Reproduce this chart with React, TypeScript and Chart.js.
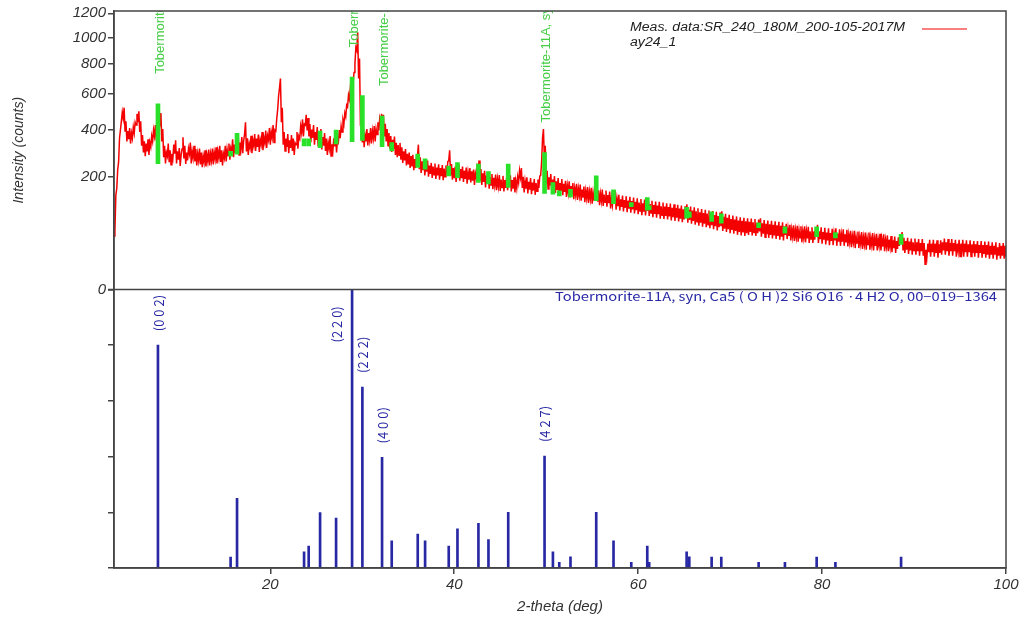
import React, { useEffect, useRef } from 'react';
import { Chart, LinearScale, registerables } from 'chart.js';

// ---------------- data ----------------
// The measured scan is very dense; it is kept here as its lower and upper noise
// envelope in 0.2 deg bins from 3.0 to 100.0 deg (counts).
const START_2THETA = 3.0;
const BIN_2THETA = 0.2;
const bandLow = [
  45, 140, 225, 360, 445,
  460, 395, 345, 355, 335,
  360, 385, 425, 440, 390,
  325, 295, 280, 300, 285,
  320, 345, 370, 350, 400,
  440, 345, 275, 250, 280,
  255, 245, 270, 290, 250,
  265, 240, 310, 270, 248,
  262, 290, 250, 272, 258,
  242, 262, 246, 235, 255,
  238, 258, 242, 262, 246,
  268, 250, 272, 256, 242,
  272, 258, 282, 265, 300,
  275, 295, 330, 285, 310,
  292, 380, 300, 285, 315,
  292, 325, 302, 320, 298,
  330, 305, 338, 315, 352,
  330, 362, 340, 395, 510,
  640, 440, 330, 302, 320,
  292, 315, 302, 285, 330,
  312, 358, 388, 368, 425,
  398, 368, 340, 362, 330,
  352, 322, 345, 308, 325,
  302, 285, 312, 280, 302,
  322, 295, 340, 360, 390,
  430, 470, 525, 570, 610,
  670, 800, 900, 700, 420,
  340, 318, 345, 326, 350,
  336, 360, 345, 378, 398,
  440, 415, 368, 345, 325,
  312, 298, 312, 285, 275,
  284, 265, 252, 262, 242,
  246, 232, 238, 224, 232,
  280, 228, 214, 224, 205,
  218, 200, 210, 196, 207,
  192, 205, 190, 202, 188,
  200, 212, 260, 205, 190,
  195, 182, 204, 186, 195,
  182, 192, 176, 190, 180,
  186, 172, 196, 225, 186,
  172, 182, 164, 176, 160,
  172, 158, 170, 155, 167,
  153, 164, 151, 162, 155,
  166, 151, 160, 148, 162,
  180, 198, 162, 148, 160,
  145, 157, 143, 154, 141,
  152, 162, 205, 360, 265,
  178, 159, 170, 152, 163,
  147, 156, 142, 153, 140,
  150, 135, 147, 133, 142,
  128, 140, 126, 138, 124,
  133, 120, 131, 118, 129,
  116, 126, 132, 121, 112,
  123, 110, 120, 108, 117,
  103, 112, 119, 100, 109,
  98, 107, 96, 105, 94,
  103, 93, 101, 91, 99,
  89, 97, 87, 95, 86,
  97, 85, 92, 82, 90,
  81, 89, 79, 87, 78,
  85, 77, 84, 75, 82,
  74, 81, 73, 79, 71,
  77, 80, 70, 76, 68,
  74, 66, 72, 64, 70,
  62, 68, 61, 66, 59,
  65, 57, 63, 55, 61,
  63, 54, 58, 52, 57,
  50, 56, 49, 54, 47,
  52, 46, 51, 45, 50,
  47, 52, 46, 51, 45,
  50, 53, 44, 49, 43,
  48, 42, 47, 41, 46,
  40, 45, 39, 44, 38,
  47, 40, 45, 38, 44,
  37, 43, 36, 42, 35,
  42, 35, 41, 34, 40,
  34, 39, 45, 34, 40,
  33, 39, 32, 38, 31,
  37, 31, 38, 30, 36,
  30, 36, 30, 35, 29,
  35, 28, 35, 27, 34,
  27, 33, 26, 32, 25,
  32, 25, 31, 24, 30,
  24, 30, 24, 29, 23,
  29, 23, 28, 22, 27,
  21, 26, 30, 33, 25,
  21, 25, 20, 24, 19,
  24, 19, 23, 18, 23,
  18, 10, 17, 22, 17,
  22, 17, 21, 16, 21,
  19, 24, 19, 23, 18,
  23, 18, 23, 17, 23,
  17, 23, 17, 22, 17,
  22, 17, 21, 17, 21,
  16, 21, 16, 20, 16,
  19, 15, 19, 15, 19,
  14, 18, 15, 18, 15,
  17,
];
const bandHigh = [
  55, 160, 255, 400, 495,
  520, 445, 395, 410, 385,
  415, 440, 485, 500, 445,
  375, 345, 335, 355, 340,
  370, 400, 425, 410, 460,
  490, 405, 325, 295, 335,
  305, 290, 330, 350, 300,
  315, 285, 365, 325, 295,
  312, 340, 300, 325, 310,
  290, 312, 295, 280, 305,
  285, 308, 290, 312, 295,
  318, 300, 325, 305, 290,
  325, 310, 335, 315, 355,
  330, 350, 385, 340, 365,
  348, 440, 360, 335, 372,
  350, 380, 358, 378, 352,
  390, 362, 398, 372, 410,
  390, 425, 400, 460, 590,
  700, 520, 390, 358, 380,
  350, 375, 358, 338, 390,
  370, 420, 455, 430, 480,
  462, 430, 402, 425, 390,
  415, 380, 405, 365, 385,
  358, 338, 370, 332, 360,
  380, 350, 400, 420, 452,
  490, 535, 595, 640, 680,
  740, 920, 1040, 840, 490,
  400, 375, 405, 385, 410,
  395, 420, 405, 440, 462,
  485, 480, 432, 405, 385,
  370, 352, 368, 338, 328,
  338, 318, 300, 310, 290,
  295, 280, 285, 268, 280,
  330, 275, 258, 268, 248,
  262, 242, 252, 238, 250,
  234, 247, 232, 244, 230,
  242, 258, 305, 248, 232,
  238, 222, 248, 228, 238,
  222, 234, 216, 232, 220,
  226, 212, 238, 262, 228,
  212, 222, 204, 216, 200,
  210, 196, 208, 192, 206,
  190, 203, 188, 200, 192,
  205, 188, 198, 185, 200,
  222, 232, 200, 185, 198,
  182, 195, 180, 192, 178,
  190, 202, 255, 405, 325,
  222, 198, 210, 190, 202,
  184, 195, 178, 192, 176,
  186, 170, 184, 168, 178,
  162, 176, 160, 173, 157,
  167, 153, 165, 151, 163,
  148, 160, 168, 155, 144,
  157, 142, 154, 140, 151,
  133, 144, 153, 130, 141,
  128, 139, 126, 137, 124,
  135, 123, 133, 121, 131,
  119, 129, 117, 127, 116,
  131, 115, 124, 112, 122,
  111, 121, 109, 119, 108,
  117, 107, 116, 105, 114,
  104, 113, 103, 111, 101,
  109, 114, 100, 108, 98,
  106, 96, 104, 94, 102,
  92, 100, 91, 98, 89,
  97, 87, 95, 85, 93,
  96, 83, 90, 81, 88,
  78, 86, 77, 84, 75,
  82, 74, 81, 73, 80,
  72, 79, 71, 78, 70,
  77, 80, 69, 76, 68,
  75, 67, 74, 66, 73,
  65, 72, 64, 71, 63,
  68, 59, 66, 57, 65,
  56, 64, 55, 63, 54,
  63, 54, 62, 53, 61,
  53, 60, 66, 53, 61,
  52, 60, 51, 59, 50,
  58, 50, 59, 49, 57,
  48, 57, 48, 56, 47,
  54, 45, 54, 44, 53,
  44, 52, 43, 51, 42,
  51, 42, 50, 41, 49,
  40, 49, 40, 48, 39,
  46, 39, 45, 38, 44,
  37, 43, 47, 52, 42,
  37, 42, 36, 41, 35,
  41, 35, 40, 34, 40,
  34, 25, 33, 39, 33,
  39, 33, 38, 32, 38,
  35, 41, 35, 40, 34,
  40, 34, 39, 33, 39,
  33, 39, 33, 38, 32,
  38, 32, 37, 32, 37,
  31, 37, 31, 36, 31,
  36, 30, 35, 30, 35,
  28, 34, 30, 34, 30,
  32,
];

// Tobermorite-11A reference card 00-019-1364
const refPeaks = [7.78, 15.68, 16.38, 23.67, 24.17, 25.41, 27.15, 28.89, 30.01, 32.15, 33.2, 36.03, 36.83, 39.4, 40.35, 42.63, 43.72, 45.87, 49.82, 50.73, 51.42, 52.64, 55.44, 57.32, 59.25, 60.99, 61.2, 65.27, 65.56, 67.99, 69.04, 73.1, 75.96, 79.41, 81.45, 88.59];
const refIntensity = [80, 3.9, 25, 5.8, 7.9, 19.9, 17.9, 100, 65, 39.7, 9.8, 12.2, 9.8, 7.9, 14.1, 16, 10.2, 20, 40.2, 5.8, 2, 4, 20, 9.8, 2, 7.9, 2, 5.8, 4, 3.9, 3.9, 2, 2, 3.9, 2, 3.9];
// phase markers overlaid on the measured pattern (counts, low / high end)
const markerLow = [249, 280, 288, 324, 324, 316, 333, 344, 350, 321, 302, 234, 228, 203, 197, 180, 175, 164, 145, 143, 138, 135, 124, 116, 108, 99, 100, 80, 82, 73, 69, 60, 50, 44, 42, 32];
const markerHigh = [542, 300, 384, 357, 357, 395, 400, 709, 592, 473, 339, 288, 269, 240, 253, 247, 219, 247, 295, 180, 153, 158, 203, 156, 119, 133, 110, 106, 95, 95, 90, 70, 62, 62, 51, 48];

const phaseLabelPeaks = [7.78, 28.89, 32.15, 49.82];
const phaseName = 'Tobermorite-11A, syn';
const hklPeaks = [7.78, 28.89, 30.01, 32.15, 49.82];
const hklTexts = ['(0 0 2)', '(2 2 0)', '(2 2 2)', '(4 0 0)', '(4 2 7)'];

const xTicks = [20, 40, 60, 80, 100];
const yTopTicks = [0, 200, 400, 600, 800, 1000, 1200];
const yBotTicks = [0, 20, 40, 60, 80, 100];

const legendLines = ['Meas. data:SR_240_180M_200-105-2017M', 'ay24_1'];
const cardTitle = 'Tobermorite-11A, syn, Ca5 ( O H )2 Si6 O16 \u00B74 H2 O, 00\u2212019\u22121364';

// ---------------- styles ----------------
const RED = 'rgb(245,0,0)';
const GREEN = 'rgb(40,225,40)';
const GREEN_TEXT = 'rgb(70,205,70)';
const BLUE = 'rgb(40,40,165)';
const AXIS = '#444';
const TEXT = '#333';

// ---------------- square-root scale ----------------
class SqrtScale extends LinearScale {
  static id = 'sqrt';
  static defaults = LinearScale.defaults;
  getPixelForValue(value: number) {
    const lo = Math.sqrt(Math.max(0, this.min));
    const hi = Math.sqrt(Math.max(0, this.max));
    const v = Math.sqrt(Math.max(0, value));
    return this.getPixelForDecimal((v - lo) / (hi - lo));
  }
  getValueForPixel(pixel: number) {
    const lo = Math.sqrt(Math.max(0, this.min));
    const hi = Math.sqrt(Math.max(0, this.max));
    const s = lo + this.getDecimalForPixel(pixel) * (hi - lo);
    return s * s;
  }
}

Chart.register(...registerables, SqrtScale as any);

function stretchText(ctx: CanvasRenderingContext2D, text: string, x: number, y: number, sx: number) {
  ctx.save();
  ctx.translate(x, y);
  ctx.scale(sx, 1);
  ctx.fillText(text, 0, 0);
  ctx.restore();
}

const decorPlugin = {
  id: 'decor',
  afterDatasetsDraw(chart: any) {
    const { ctx, chartArea, scales } = chart;
    const xs = scales.x, yT = scales.yTop, yB = scales.yBot;

    // phase name labels (green, vertical, clipped to top panel)
    ctx.save();
    ctx.beginPath();
    ctx.rect(chartArea.left, yT.top, chartArea.right - chartArea.left, yT.bottom - yT.top);
    ctx.clip();
    ctx.font = '13px "Liberation Sans", Arial, sans-serif';
    ctx.fillStyle = GREEN_TEXT;
    ctx.textAlign = 'left';
    ctx.textBaseline = 'middle';
    for (const p of phaseLabelPeaks) {
      const i = refPeaks.indexOf(p);
      const px = xs.getPixelForValue(p) + 2;
      const py = yT.getPixelForValue(markerHigh[i]) - 30;
      ctx.save();
      ctx.translate(px, py);
      ctx.rotate(-Math.PI / 2);
      ctx.fillText(phaseName, 0, 0);
      ctx.restore();
    }
    ctx.restore();

    // hkl labels (blue, vertical)
    ctx.save();
    ctx.font = '13px "Noto Sans CJK JP", "DejaVu Sans", sans-serif';
    ctx.fillStyle = BLUE;
    ctx.textAlign = 'left';
    ctx.textBaseline = 'middle';
    hklPeaks.forEach((p, k) => {
      const i = refPeaks.indexOf(p);
      let px = xs.getPixelForValue(p) + 1;
      let py = yB.getPixelForValue(refIntensity[i]) - 14;
      if (refIntensity[i] >= 95) {
        px -= 16;
        py = yB.top + 53;
      }
      ctx.save();
      ctx.translate(px, py);
      ctx.rotate(-Math.PI / 2);
      ctx.fillText(hklTexts[k], 0, 0);
      ctx.restore();
    });
    ctx.restore();
  },
  afterDraw(chart: any) {
    const { ctx, chartArea, scales } = chart;
    const yT = scales.yTop;
    ctx.save();
    // frame + panel separator
    ctx.strokeStyle = AXIS;
    ctx.lineWidth = 1.5;
    ctx.strokeRect(chartArea.left, chartArea.top, chartArea.right - chartArea.left, chartArea.bottom - chartArea.top);
    ctx.beginPath();
    ctx.moveTo(chartArea.left - 6, yT.bottom);
    ctx.lineTo(chartArea.right, yT.bottom);
    ctx.stroke();

    // legend
    ctx.font = 'italic 12px "Liberation Sans", Arial, sans-serif';
    ctx.fillStyle = '#222';
    ctx.textAlign = 'left';
    ctx.textBaseline = 'middle';
    const w0 = ctx.measureText(legendLines[0]).width;
    const sx = 275 / w0;
    stretchText(ctx, legendLines[0], 630, chartArea.top + 17, sx);
    stretchText(ctx, legendLines[1], 630, chartArea.top + 32, sx);
    ctx.strokeStyle = RED;
    ctx.lineWidth = 1.2;
    ctx.beginPath();
    ctx.moveTo(922, chartArea.top + 18);
    ctx.lineTo(967, chartArea.top + 18);
    ctx.stroke();

    // reference card title
    ctx.font = '12px "Noto Sans CJK JP", "DejaVu Sans", sans-serif';
    ctx.fillStyle = BLUE;
    const wt = ctx.measureText(cardTitle).width;
    stretchText(ctx, cardTitle, 555, yT.bottom + 7, 442 / wt);
    ctx.restore();
  },
};

export default function App() {
  const ref = useRef<HTMLCanvasElement>(null);
  useEffect(() => {
    if (!ref.current) return;
    Chart.defaults.font.family = '"Liberation Sans", Arial, sans-serif';
    // each bin is drawn as a stroke from its lower to its upper envelope value
    const measured: { x: number; y: number }[] = [];
    bandLow.forEach((lo, i) => {
      const x0 = START_2THETA + i * BIN_2THETA;
      measured.push({ x: +x0.toFixed(2), y: lo });
      measured.push({ x: +(x0 + BIN_2THETA / 2).toFixed(2), y: bandHigh[i] });
    });
    const markers = refPeaks.map((p, i) => ({ x: p, y: [markerLow[i], markerHigh[i]] }));
    const sticks = refPeaks.map((p, i) => ({ x: p, y: refIntensity[i] }));

    const gridOpts = { display: true, offset: false, drawOnChartArea: false, drawTicks: true, tickLength: 6, color: AXIS, lineWidth: 1.5 };
    const borderOpts = { display: true, color: AXIS, width: 1.5 };

    const chart = new Chart(ref.current, {
      type: 'line',
      data: {
        datasets: [
          {
            type: 'bar',
            label: 'markers',
            data: markers as any,
            xAxisID: 'x',
            yAxisID: 'yTop',
            backgroundColor: GREEN,
            borderWidth: 0,
            barThickness: 4,
            grouped: false,
            order: 0,
          } as any,
          {
            type: 'line',
            label: 'measured',
            data: measured,
            xAxisID: 'x',
            yAxisID: 'yTop',
            borderColor: RED,
            borderWidth: 1.5,
            pointRadius: 0,
            tension: 0,
            order: 1,
          },
          {
            type: 'bar',
            label: 'card',
            data: sticks as any,
            xAxisID: 'x',
            yAxisID: 'yBot',
            backgroundColor: BLUE,
            borderWidth: 0,
            barThickness: 2,
            grouped: false,
            order: 2,
          } as any,
        ],
      },
      options: {
        animation: false,
        responsive: true,
        maintainAspectRatio: false,
        layout: { padding: { left: 0, right: 19, top: 10, bottom: 0 } },
        plugins: { legend: { display: false }, tooltip: { enabled: false } },
        scales: {
          x: {
            type: 'linear',
            min: 3,
            max: 100,
            offset: false,
            afterBuildTicks: (ax: any) => { ax.ticks = xTicks.map((v) => ({ value: v })); },
            afterFit: (s: any) => { s.height = 51; },
            grid: gridOpts,
            border: borderOpts,
            ticks: { font: { size: 15, style: 'italic' }, color: TEXT, padding: 2, maxRotation: 0, autoSkip: false, callback: (v: any) => String(v) },
            title: { display: true, text: '2-theta (deg)', font: { size: 15, style: 'italic' }, color: TEXT, padding: { top: 0, bottom: 3 } },
          },
          yTop: {
            type: 'sqrt' as any,
            position: 'left',
            stack: 'panels',
            stackWeight: 1,
            weight: 2,
            min: 0,
            max: 1220,
            afterBuildTicks: (ax: any) => { ax.ticks = yTopTicks.map((v) => ({ value: v })); },
            afterFit: (s: any) => { s.width = 114; },
            grid: gridOpts,
            border: borderOpts,
            ticks: { font: { size: 15, style: 'italic' }, color: TEXT, padding: 2, callback: (v: any) => String(v) },
            title: { display: true, text: 'Intensity (counts)', font: { size: 14, style: 'italic' }, color: TEXT, padding: { top: 11, bottom: 0 } },
          } as any,
          yBot: {
            type: 'linear',
            position: 'left',
            stack: 'panels',
            stackWeight: 1,
            weight: 1,
            min: 0,
            max: 100,
            afterBuildTicks: (ax: any) => { ax.ticks = yBotTicks.map((v) => ({ value: v })); },
            afterFit: (s: any) => { s.width = 114; },
            grid: gridOpts,
            border: borderOpts,
            ticks: { callback: () => '', padding: 2 },
          } as any,
        },
      },
      plugins: [decorPlugin],
    });
    return () => chart.destroy();
  }, []);

  return (
    <div style={{ position: 'fixed', left: 0, top: 0, width: 1025, height: 619, background: '#fff' }}>
      <canvas ref={ref} />
    </div>
  );
}
